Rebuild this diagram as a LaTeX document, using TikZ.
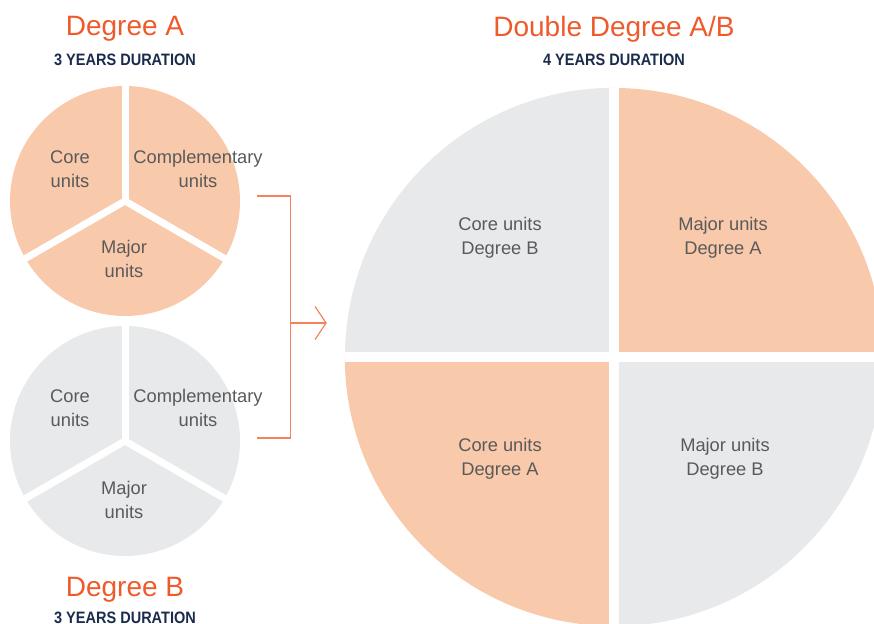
\documentclass[tikz,border=0pt]{standalone}
\usepackage{fontspec}
\setmainfont{Liberation Sans}
\newfontfamily\condfont[FakeStretch=0.88]{Liberation Sans}
\usepackage{xcolor}
\usetikzlibrary{positioning,calc,arrows.meta}
\definecolor{peachFill}{HTML}{F9C9AB}
\definecolor{greyFill}{HTML}{E8E9EB}
\definecolor{titleOrange}{HTML}{EE5A2A}
\definecolor{lineOrange}{HTML}{F4825B}
\definecolor{navyText}{HTML}{1A2B4C}
\definecolor{labelGrey}{HTML}{5A5A5A}
\tikzset{
  pieDisc/.style={
    circle,
    inner sep=0pt,
    minimum size=230pt
  },
  bigDisc/.style={
    circle,
    inner sep=0pt,
    minimum size=538pt
  },
  gapLine/.style={
    white,
    line width=7pt
  },
  pieLabel/.style={
    align=center,
    text=labelGrey,
    inner sep=0pt,
    font=\fontsize{18.3}{24}\selectfont
  },
  titleText/.style={
    text=titleOrange,
    inner sep=0pt,
    anchor=base,
    font=\fontsize{28}{30}\selectfont
  },
  durationText/.style={
    text=navyText,
    inner sep=0pt,
    anchor=base,
    font=\condfont\bfseries\fontsize{16.5}{18}\selectfont
  },
  bracketLine/.style={
    draw=lineOrange,
    line width=1.2pt
  },
  arrowHead/.style={
    -{Straight Barb[length=11pt,width=33pt,line width=1.2pt]}
  }
}

\begin{document}
\begin{tikzpicture}[x=1pt,y=1pt]
    \clip (0,0) rectangle (874,623);

    % degree A
    \node[pieDisc, fill=peachFill] (pieA) at (125,422) {};
    \foreach \ang in {90,210,330}
        \draw[gapLine] (pieA.center) -- ++(\ang:122);
    \node[pieLabel] (coreA) at (70,454) {Core\\units};
    \node[pieLabel] (complA) at (198,454) {Complementary\\units};
    \node[pieLabel] (majorA) at (124,364) {Major\\units};
    \node[durationText] (durA) at (125,557) {3 YEARS DURATION};
    \node[titleText] (titleA) at ([yshift=30pt]durA.base) {Degree A};

    % degree B
    \node[pieDisc, fill=greyFill] (pieB) at (125,182) {};
    \foreach \ang in {90,210,330}
        \draw[gapLine] (pieB.center) -- ++(\ang:122);
    \node[pieLabel] (coreB) at (70,215) {Core\\units};
    \node[pieLabel] (complB) at (198,215) {Complementary\\units};
    \node[pieLabel] (majorB) at (124,123) {Major\\units};
    \node[titleText] (titleB) at (125,27) {Degree B};
    \node[durationText] (durB) at ([yshift=-27pt]titleB.base) {3 YEARS DURATION};

    % double degree
    \node[bigDisc] (big) at (614,266) {};
    \fill[greyFill] (big.center) -- (big.north) arc[start angle=90, end angle=180, radius=269pt] -- cycle;
    \fill[peachFill] (big.center) -- (big.east) arc[start angle=0, end angle=90, radius=269pt] -- cycle;
    \fill[peachFill] (big.center) -- (big.west) arc[start angle=180, end angle=270, radius=269pt] -- cycle;
    \fill[greyFill] (big.center) -- (big.south) arc[start angle=270, end angle=360, radius=269pt] -- cycle;
    \draw[gapLine, line width=10pt] (big.north) -- (big.south);
    \draw[gapLine, line width=10pt] (big.west) -- (big.east);
    \node[pieLabel] (coreDB) at (500,385) {Core units\\Degree B};
    \node[pieLabel] (majorDA) at (723,385) {Major units\\Degree A};
    \node[pieLabel] (coreDA) at (500,164) {Core units\\Degree A};
    \node[pieLabel] (majorDB) at (725,164) {Major units\\Degree B};
    \node[durationText] (durAB) at (614,557) {4 YEARS DURATION};
    \node[titleText] (titleAB) at ([yshift=29pt]durAB.base) {Double Degree A/B};

    % bracket
    \coordinate (fromA) at ($(pieA.east)+(17,5)$);
    \coordinate (fromB) at ($(pieB.east)+(17,3)$);
    \coordinate (join) at (290,300);
    \draw[bracketLine] (fromA) -- ++(33,0) |- (fromB);
    \draw[bracketLine, arrowHead, shorten >=18pt] (join) -- (join -| big.west);
\end{tikzpicture}
\end{document}
